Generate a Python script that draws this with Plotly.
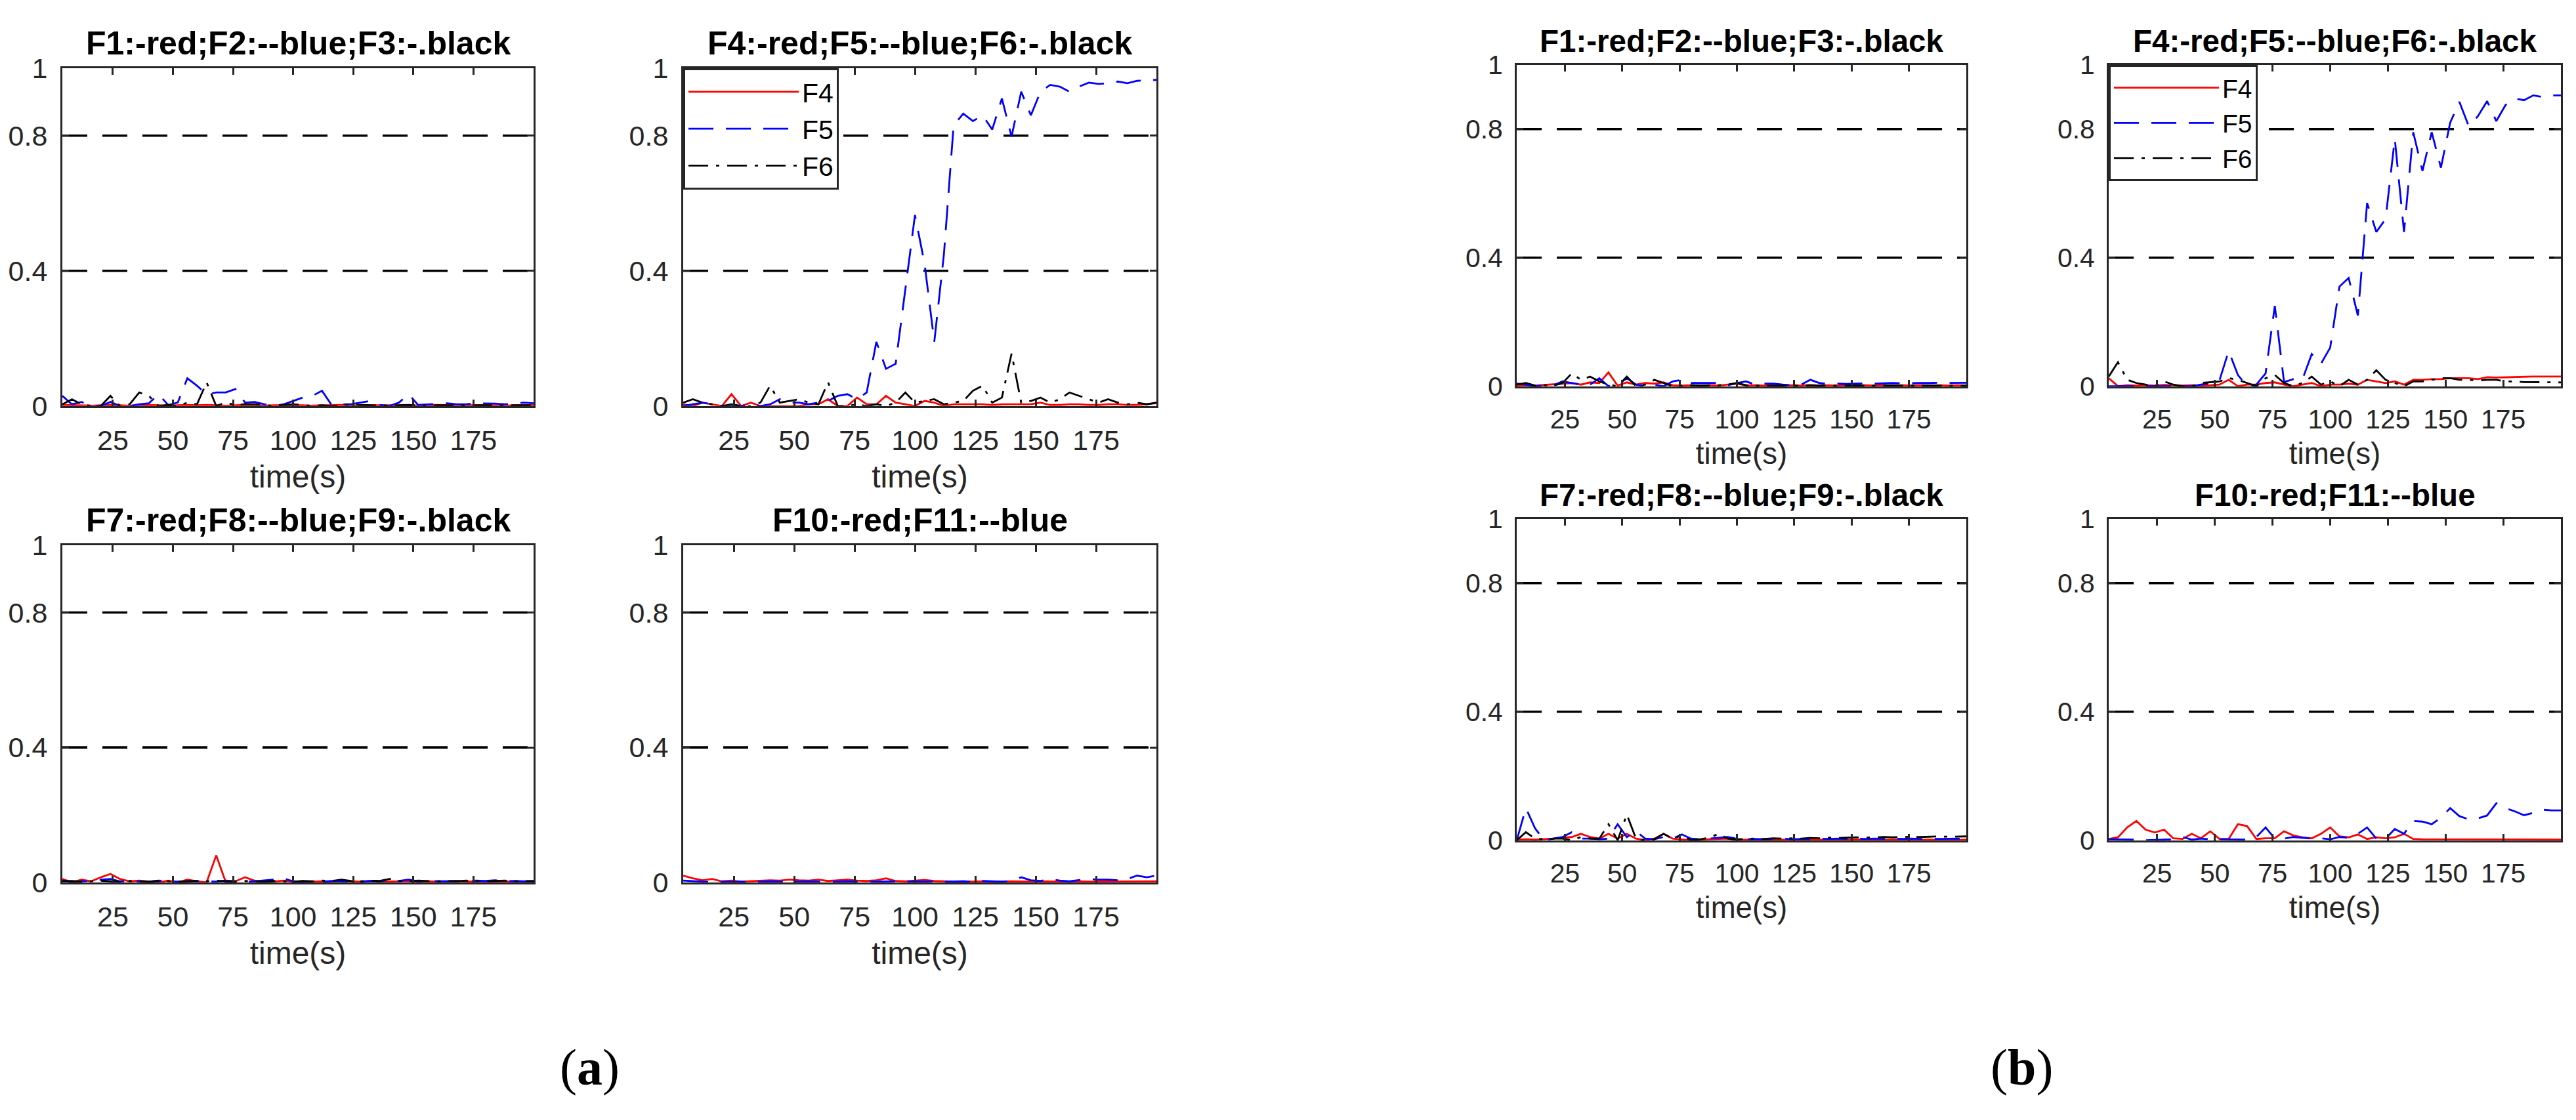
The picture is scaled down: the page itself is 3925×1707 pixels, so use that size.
import plotly.graph_objects as go

W, H = 3925, 1707

# ---------------- data ----------------
t = [4, 8, 12, 16, 20, 24, 28, 32, 36, 40,
     44, 48, 52, 56, 60, 64, 68, 72, 76, 80,
     84, 88, 92, 96, 100, 104, 108, 112, 116, 120,
     124, 128, 132, 136, 140, 144, 148, 152, 156, 160,
     164, 168, 172, 176, 180, 184, 188, 192, 196, 200]

# group (a)
F1a = [0.003, 0.002, 0.002, 0.001, 0.002, 0.003, 0.002, 0.001, 0.002, 0.003,
       0.002, 0.001, 0.002, 0.003, 0.002, 0.003, 0.002, 0.001, 0.002, 0.003,
       0.002, 0.001, 0.002, 0.002, 0.003, 0.002, 0.001, 0.002, 0.002, 0.003,
       0.002, 0.001, 0.002, 0.002, 0.003, 0.002, 0.001, 0.002, 0.002, 0.003,
       0.002, 0.001, 0.002, 0.002, 0.003, 0.002, 0.001, 0.002, 0.002, 0.003]
F2a = [0.030, 0.005, 0.012, 0.000, 0.000, 0.012, 0.000, 0.000, 0.005, 0.008,
       0.035, 0.003, 0.010, 0.082, 0.060, 0.035, 0.040, 0.040, 0.050, 0.010,
       0.012, 0.005, 0.000, 0.005, 0.015, 0.025, 0.030, 0.045, 0.003, 0.005,
       0.005, 0.010, 0.015, 0.003, 0.000, 0.010, 0.035, 0.003, 0.005, 0.007,
       0.008, 0.005, 0.005, 0.008, 0.008, 0.007, 0.005, 0.008, 0.010, 0.008]
F3a = [0.005, 0.020, 0.005, 0.000, 0.000, 0.030, 0.000, 0.005, 0.040, 0.030,
       0.000, 0.003, 0.000, 0.010, 0.005, 0.070, 0.000, 0.010, 0.003, 0.005,
       0.005, 0.002, 0.000, 0.003, 0.005, 0.003, 0.000, 0.002, 0.000, 0.002,
       0.005, 0.003, 0.002, 0.002, 0.001, 0.002, 0.003, 0.002, 0.001, 0.002,
       0.002, 0.001, 0.002, 0.002, 0.001, 0.002, 0.002, 0.001, 0.002, 0.002]
F4a = [0.005, 0.000, 0.010, 0.005, 0.000, 0.035, 0.000, 0.010, 0.000, 0.000,
       0.000, 0.000, 0.000, 0.005, 0.005, 0.020, 0.000, 0.000, 0.025, 0.005,
       0.005, 0.030, 0.010, 0.005, 0.000, 0.015, 0.010, 0.000, 0.005, 0.005,
       0.005, 0.005, 0.003, 0.005, 0.005, 0.005, 0.005, 0.010, 0.003, 0.003,
       0.005, 0.005, 0.003, 0.003, 0.005, 0.005, 0.003, 0.003, 0.005, 0.008]
F5a = [0.000, 0.005, 0.010, 0.005, 0.000, 0.000, 0.000, 0.005, 0.000, 0.005,
       0.020, 0.010, 0.010, 0.005, 0.010, 0.015, 0.030, 0.035, 0.020, 0.040,
       0.190, 0.110, 0.125, 0.350, 0.565, 0.420, 0.190, 0.450, 0.830, 0.865,
       0.843, 0.860, 0.818, 0.910, 0.797, 0.930, 0.860, 0.930, 0.950, 0.945,
       0.930, 0.945, 0.957, 0.953, 0.955, 0.960, 0.955, 0.962, 0.963, 0.965]
F6a = [0.010, 0.020, 0.010, 0.005, 0.000, 0.005, 0.000, 0.000, 0.010, 0.060,
       0.010, 0.015, 0.020, 0.010, 0.005, 0.070, 0.000, 0.000, 0.005, 0.000,
       0.005, 0.000, 0.010, 0.040, 0.010, 0.015, 0.020, 0.005, 0.010, 0.015,
       0.045, 0.060, 0.010, 0.025, 0.155, 0.010, 0.015, 0.025, 0.010, 0.020,
       0.040, 0.030, 0.020, 0.010, 0.020, 0.010, 0.005, 0.010, 0.005, 0.010]
F7a = [0.010, 0.000, 0.008, 0.003, 0.015, 0.025, 0.010, 0.003, 0.005, 0.003,
       0.000, 0.005, 0.000, 0.008, 0.003, 0.000, 0.080, 0.000, 0.003, 0.015,
       0.005, 0.000, 0.003, 0.005, 0.002, 0.003, 0.002, 0.003, 0.002, 0.004,
       0.003, 0.002, 0.004, 0.003, 0.002, 0.003, 0.004, 0.002, 0.003, 0.002,
       0.003, 0.004, 0.002, 0.003, 0.002, 0.003, 0.002, 0.003, 0.002, 0.003]
F8a = [0.005, 0.002, 0.003, 0.005, 0.008, 0.010, 0.003, 0.002, 0.003, 0.002,
       0.005, 0.003, 0.002, 0.003, 0.004, 0.003, 0.002, 0.005, 0.003, 0.002,
       0.003, 0.005, 0.008, 0.012, 0.003, 0.002, 0.003, 0.002, 0.004, 0.003,
       0.003, 0.002, 0.004, 0.003, 0.005, 0.004, 0.008, 0.003, 0.004, 0.003,
       0.003, 0.004, 0.003, 0.005, 0.004, 0.006, 0.003, 0.004, 0.003, 0.004]
F9a = [0.003, 0.004, 0.002, 0.003, 0.005, 0.003, 0.002, 0.004, 0.003, 0.002,
       0.004, 0.003, 0.002, 0.003, 0.004, 0.003, 0.005, 0.003, 0.002, 0.004,
       0.003, 0.002, 0.004, 0.003, 0.002, 0.004, 0.003, 0.005, 0.004, 0.008,
       0.004, 0.003, 0.005, 0.004, 0.010, 0.004, 0.003, 0.005, 0.004, 0.003,
       0.004, 0.003, 0.005, 0.004, 0.003, 0.004, 0.005, 0.003, 0.004, 0.003]
F10a = [0.020, 0.012, 0.006, 0.010, 0.003, 0.005, 0.002, 0.003, 0.004, 0.006,
        0.005, 0.008, 0.006, 0.005, 0.008, 0.004, 0.006, 0.008, 0.005, 0.004,
        0.006, 0.012, 0.004, 0.003, 0.005, 0.007, 0.004, 0.003, 0.002, 0.003,
        0.002, 0.003, 0.002, 0.002, 0.003, 0.002, 0.002, 0.003, 0.002, 0.002,
        0.002, 0.003, 0.002, 0.002, 0.002, 0.003, 0.002, 0.002, 0.002, 0.003]
F11a = [0.005, 0.003, 0.002, 0.001, 0.002, 0.001, 0.002, 0.001, 0.002, 0.003,
        0.002, 0.003, 0.002, 0.003, 0.002, 0.003, 0.002, 0.003, 0.002, 0.003,
        0.002, 0.003, 0.003, 0.002, 0.003, 0.002, 0.003, 0.002, 0.003, 0.003,
        0.002, 0.004, 0.003, 0.002, 0.004, 0.015, 0.006, 0.004, 0.010, 0.005,
        0.003, 0.006, 0.010, 0.008, 0.008, 0.006, 0.010, 0.020, 0.015, 0.020]

# group (b)
F1b = [0.002, 0.003, 0.002, 0.004, 0.005, 0.008, 0.010, 0.005, 0.012, 0.010,
       0.043, 0.002, 0.012, 0.005, 0.010, 0.008, 0.012, 0.003, 0.002, 0.003,
       0.002, 0.003, 0.002, 0.005, 0.008, 0.002, 0.003, 0.002, 0.003, 0.002,
       0.003, 0.002, 0.004, 0.002, 0.003, 0.002, 0.003, 0.002, 0.003, 0.002,
       0.003, 0.002, 0.003, 0.002, 0.003, 0.002, 0.003, 0.002, 0.003, 0.002]
F2b = [0.008, 0.005, 0.000, 0.003, 0.003, 0.015, 0.010, 0.005, 0.005, 0.025,
       0.000, 0.005, 0.025, 0.005, 0.000, 0.005, 0.000, 0.015, 0.020, 0.010,
       0.010, 0.010, 0.010, 0.003, 0.010, 0.015, 0.005, 0.008, 0.008, 0.005,
       0.003, 0.005, 0.020, 0.010, 0.007, 0.008, 0.007, 0.008, 0.009, 0.008,
       0.009, 0.010, 0.009, 0.010, 0.010, 0.010, 0.011, 0.010, 0.010, 0.011]
F3b = [0.005, 0.010, 0.002, 0.003, 0.002, 0.010, 0.040, 0.020, 0.030, 0.015,
       0.005, 0.000, 0.030, 0.000, 0.005, 0.020, 0.010, 0.000, 0.002, 0.003,
       0.002, 0.002, 0.003, 0.005, 0.010, 0.003, 0.002, 0.002, 0.001, 0.002,
       0.002, 0.001, 0.002, 0.001, 0.002, 0.002, 0.001, 0.002, 0.001, 0.002,
       0.002, 0.001, 0.002, 0.001, 0.002, 0.002, 0.001, 0.002, 0.001, 0.002]
F4b = [0.025, 0.000, 0.003, 0.002, 0.003, 0.002, 0.004, 0.003, 0.002, 0.003,
       0.002, 0.003, 0.005, 0.020, 0.000, 0.005, 0.005, 0.010, 0.012, 0.005,
       0.000, 0.005, 0.010, 0.000, 0.005, 0.005, 0.008, 0.005, 0.020, 0.015,
       0.010, 0.015, 0.005, 0.020, 0.020, 0.022, 0.022, 0.025, 0.025, 0.025,
       0.022, 0.028, 0.027, 0.028, 0.029, 0.030, 0.030, 0.030, 0.030, 0.030]
F5b = [0.000, 0.000, 0.000, 0.000, 0.000, 0.000, 0.000, 0.000, 0.000, 0.000,
       0.005, 0.010, 0.018, 0.110, 0.035, 0.000, 0.005, 0.040, 0.250, 0.013,
       0.022, 0.022, 0.100, 0.070, 0.120, 0.310, 0.337, 0.220, 0.570, 0.480,
       0.520, 0.770, 0.480, 0.790, 0.670, 0.790, 0.680, 0.820, 0.885, 0.810,
       0.840, 0.887, 0.825, 0.875, 0.895, 0.890, 0.905, 0.900, 0.905, 0.905]
F6b = [0.030, 0.075, 0.020, 0.010, 0.005, 0.000, 0.015, 0.005, 0.000, 0.000,
       0.010, 0.012, 0.015, 0.025, 0.020, 0.010, 0.000, 0.025, 0.035, 0.010,
       0.000, 0.010, 0.030, 0.005, 0.015, 0.000, 0.020, 0.005, 0.020, 0.050,
       0.020, 0.010, 0.000, 0.015, 0.015, 0.020, 0.025, 0.025, 0.020, 0.020,
       0.018, 0.020, 0.020, 0.015, 0.015, 0.013, 0.013, 0.012, 0.012, 0.012]
F7b = [0.002, 0.003, 0.002, 0.003, 0.005, 0.008, 0.010, 0.020, 0.010, 0.005,
       0.020, 0.005, 0.020, 0.005, 0.000, 0.005, 0.020, 0.005, 0.003, 0.000,
       0.002, 0.003, 0.005, 0.005, 0.000, 0.002, 0.001, 0.002, 0.001, 0.002,
       0.001, 0.002, 0.001, 0.002, 0.001, 0.002, 0.001, 0.002, 0.001, 0.002,
       0.001, 0.002, 0.001, 0.002, 0.001, 0.002, 0.001, 0.002, 0.001, 0.002]
F8b = [0.000, 0.100, 0.037, 0.000, 0.005, 0.010, 0.025, 0.005, 0.005, 0.003,
       0.005, 0.050, 0.010, 0.028, 0.005, 0.003, 0.010, 0.005, 0.018, 0.005,
       0.003, 0.005, 0.008, 0.010, 0.005, 0.003, 0.004, 0.003, 0.004, 0.005,
       0.003, 0.004, 0.003, 0.005, 0.004, 0.005, 0.004, 0.005, 0.004, 0.005,
       0.004, 0.005, 0.004, 0.005, 0.004, 0.005, 0.004, 0.005, 0.005, 0.004]
F9b = [0.000, 0.025, 0.005, 0.003, 0.005, 0.005, 0.000, 0.010, 0.005, 0.005,
       0.050, 0.000, 0.080, 0.005, 0.000, 0.003, 0.020, 0.005, 0.015, 0.000,
       0.003, 0.008, 0.020, 0.005, 0.003, 0.004, 0.005, 0.004, 0.006, 0.005,
       0.006, 0.005, 0.007, 0.006, 0.008, 0.007, 0.008, 0.009, 0.008, 0.009,
       0.010, 0.009, 0.010, 0.011, 0.010, 0.011, 0.012, 0.011, 0.012, 0.012]
F10b = [0.004, 0.009, 0.040, 0.060, 0.033, 0.024, 0.033, 0.006, 0.004, 0.020,
        0.006, 0.028, 0.004, 0.004, 0.050, 0.044, 0.004, 0.006, 0.006, 0.028,
        0.015, 0.009, 0.006, 0.020, 0.040, 0.012, 0.009, 0.018, 0.004, 0.009,
        0.006, 0.009, 0.020, 0.004, 0.003, 0.003, 0.003, 0.002, 0.003, 0.002,
        0.002, 0.002, 0.002, 0.002, 0.002, 0.002, 0.002, 0.002, 0.002, 0.002]
F11b = [0.003, 0.003, 0.002, 0.002, 0.000, 0.001, 0.002, 0.003, 0.010, 0.002,
        0.005, 0.003, 0.003, 0.003, 0.003, 0.002, 0.010, 0.040, 0.005, 0.005,
        0.010, 0.008, 0.005, 0.006, 0.003, 0.010, 0.008, 0.020, 0.040, 0.005,
        0.005, 0.035, 0.020, 0.060, 0.058, 0.050, 0.070, 0.100, 0.075, 0.065,
        0.068, 0.077, 0.115, 0.100, 0.090, 0.078, 0.085, 0.095, 0.093, 0.093]

thresholds = [0.4, 0.8]
x_ticks = [25, 50, 75, 100, 125, 150, 175]
y_ticks = [0, 0.4, 0.8, 1]
y_tick_text = ["0", "0.4", "0.8", "1"]
x_range = [4, 200]
y_range = [0, 1]
x_label = "time(s)"
group_labels = ["a", "b"]

# ---------------- styles ----------------
RED, BLUE, BLACK = "#FF0000", "#0000FF", "#000000"
AX = "#262626"
FONT = "Liberation Sans"
STYLE = {
    "red": dict(color=RED, dash="solid"),
    "blue": dict(color=BLUE, dash="38px,19px"),
    "black": dict(color=BLACK, dash="30px,12px,5px,12px"),
}

# panel boxes in pixels: (left, right, top, bottom), scale factor
panels = [
    dict(box=(95, 813, 82, 612), s=1.0, title="F1:-red;F2:--blue;F3:-.black",
         series=[("F1", F1a, "red"), ("F2", F2a, "blue"), ("F3", F3a, "black")], legend=None),
    dict(box=(1041, 1762, 82, 612), s=1.0, title="F4:-red;F5:--blue;F6:-.black",
         series=[("F4", F4a, "red"), ("F5", F5a, "blue"), ("F6", F6a, "black")], legend="legend"),
    dict(box=(95, 813, 830, 1359), s=1.0, title="F7:-red;F8:--blue;F9:-.black",
         series=[("F7", F7a, "red"), ("F8", F8a, "blue"), ("F9", F9a, "black")], legend=None),
    dict(box=(1041, 1762, 830, 1359), s=1.0, title="F10:-red;F11:--blue",
         series=[("F10", F10a, "red"), ("F11", F11a, "blue")], legend=None),
    dict(box=(2311, 2996, 77, 581), s=0.95, title="F1:-red;F2:--blue;F3:-.black",
         series=[("F1", F1b, "red"), ("F2", F2b, "blue"), ("F3", F3b, "black")], legend=None),
    dict(box=(3213, 3902, 77, 581), s=0.95, title="F4:-red;F5:--blue;F6:-.black",
         series=[("F4", F4b, "red"), ("F5", F5b, "blue"), ("F6", F6b, "black")], legend="legend2"),
    dict(box=(2311, 2996, 789, 1293), s=0.95, title="F7:-red;F8:--blue;F9:-.black",
         series=[("F7", F7b, "red"), ("F8", F8b, "blue"), ("F9", F9b, "black")], legend=None),
    dict(box=(3213, 3902, 789, 1293), s=0.95, title="F10:-red;F11:--blue",
         series=[("F10", F10b, "red"), ("F11", F11b, "blue")], legend=None),
]

fig = go.Figure()
layout = dict(
    width=W, height=H, margin=dict(l=0, r=0, t=0, b=0),
    paper_bgcolor="white", plot_bgcolor="white",
    font=dict(family=FONT, color=AX),
    annotations=[], shapes=[],
)

for i, p in enumerate(panels, start=1):
    l, r, tp, bt = p["box"]
    s = p["s"]
    xa = "x" if i == 1 else f"x{i}"
    ya = "y" if i == 1 else f"y{i}"
    xkey = "xaxis" if i == 1 else f"xaxis{i}"
    ykey = "yaxis" if i == 1 else f"yaxis{i}"

    for name, vals, col in p["series"]:
        st = STYLE[col]
        tr = go.Scatter(
            x=t, y=vals, mode="lines", name=name,
            line=dict(color=st["color"], dash=st["dash"], width=2.8),
            xaxis=xa, yaxis=ya,
            showlegend=p["legend"] is not None,
        )
        if p["legend"]:
            tr.legend = p["legend"]
        fig.add_trace(tr)

    common = dict(
        showline=True, linecolor=AX, linewidth=3, mirror="ticks",
        ticks="inside", ticklen=10, tickwidth=2.5, tickcolor=AX,
        showgrid=False, zeroline=False,
        tickfont=dict(family=FONT, size=43 * s, color=AX),
    )
    layout[xkey] = dict(
        domain=[l / W, r / W], range=x_range, anchor=ya,
        tickmode="array", tickvals=x_ticks, ticklabelstandoff=int(round(13 * s)),
        title=dict(text=x_label, font=dict(family=FONT, size=48 * s, color=AX),
                   standoff=int(round(16 * s))),
        **common,
    )
    layout[ykey] = dict(
        domain=[1 - bt / H, 1 - tp / H], range=y_range, anchor=xa,
        tickmode="array", tickvals=y_ticks, ticktext=y_tick_text,
        ticklabelstandoff=int(round(11 * s)),
        **common,
    )
    for th in thresholds:
        layout["shapes"].append(dict(
            type="line", xref=f"{xa} domain", yref=ya, x0=0, x1=1, y0=th, y1=th,
            line=dict(color=BLACK, width=3.6, dash="38px,23px"), layer="below",
        ))
    layout["annotations"].append(dict(
        text=p["title"], xref="paper", yref="paper",
        x=(l + r) / 2 / W, y=1 - (tp - 39 * s) / H,
        xanchor="center", yanchor="middle", showarrow=False,
        font=dict(family=FONT, size=50 * s, color="#000000", weight="bold"),
    ))
    if p["legend"]:
        layout[p["legend"]] = dict(
            x=l / W, y=1 - tp / H, xanchor="left", yanchor="top",
            bgcolor="white", bordercolor=AX, borderwidth=3,
            font=dict(family=FONT, size=41 * s, color="#000000"),
            itemwidth=int(round(168 * s)), tracegroupgap=0,
        )

# group labels (a), (b)
for lab, cx in zip(group_labels, [898, 3080]):
    layout["annotations"].append(dict(
        text=f"(<b>{lab}</b>)", xref="paper", yref="paper",
        x=cx / W, y=1 - 1649 / H, xanchor="center", yanchor="middle",
        showarrow=False, font=dict(family="Liberation Serif", size=78, color="#000000"),
    ))

fig.update_layout(**layout)
fig.write_html("out.html")
